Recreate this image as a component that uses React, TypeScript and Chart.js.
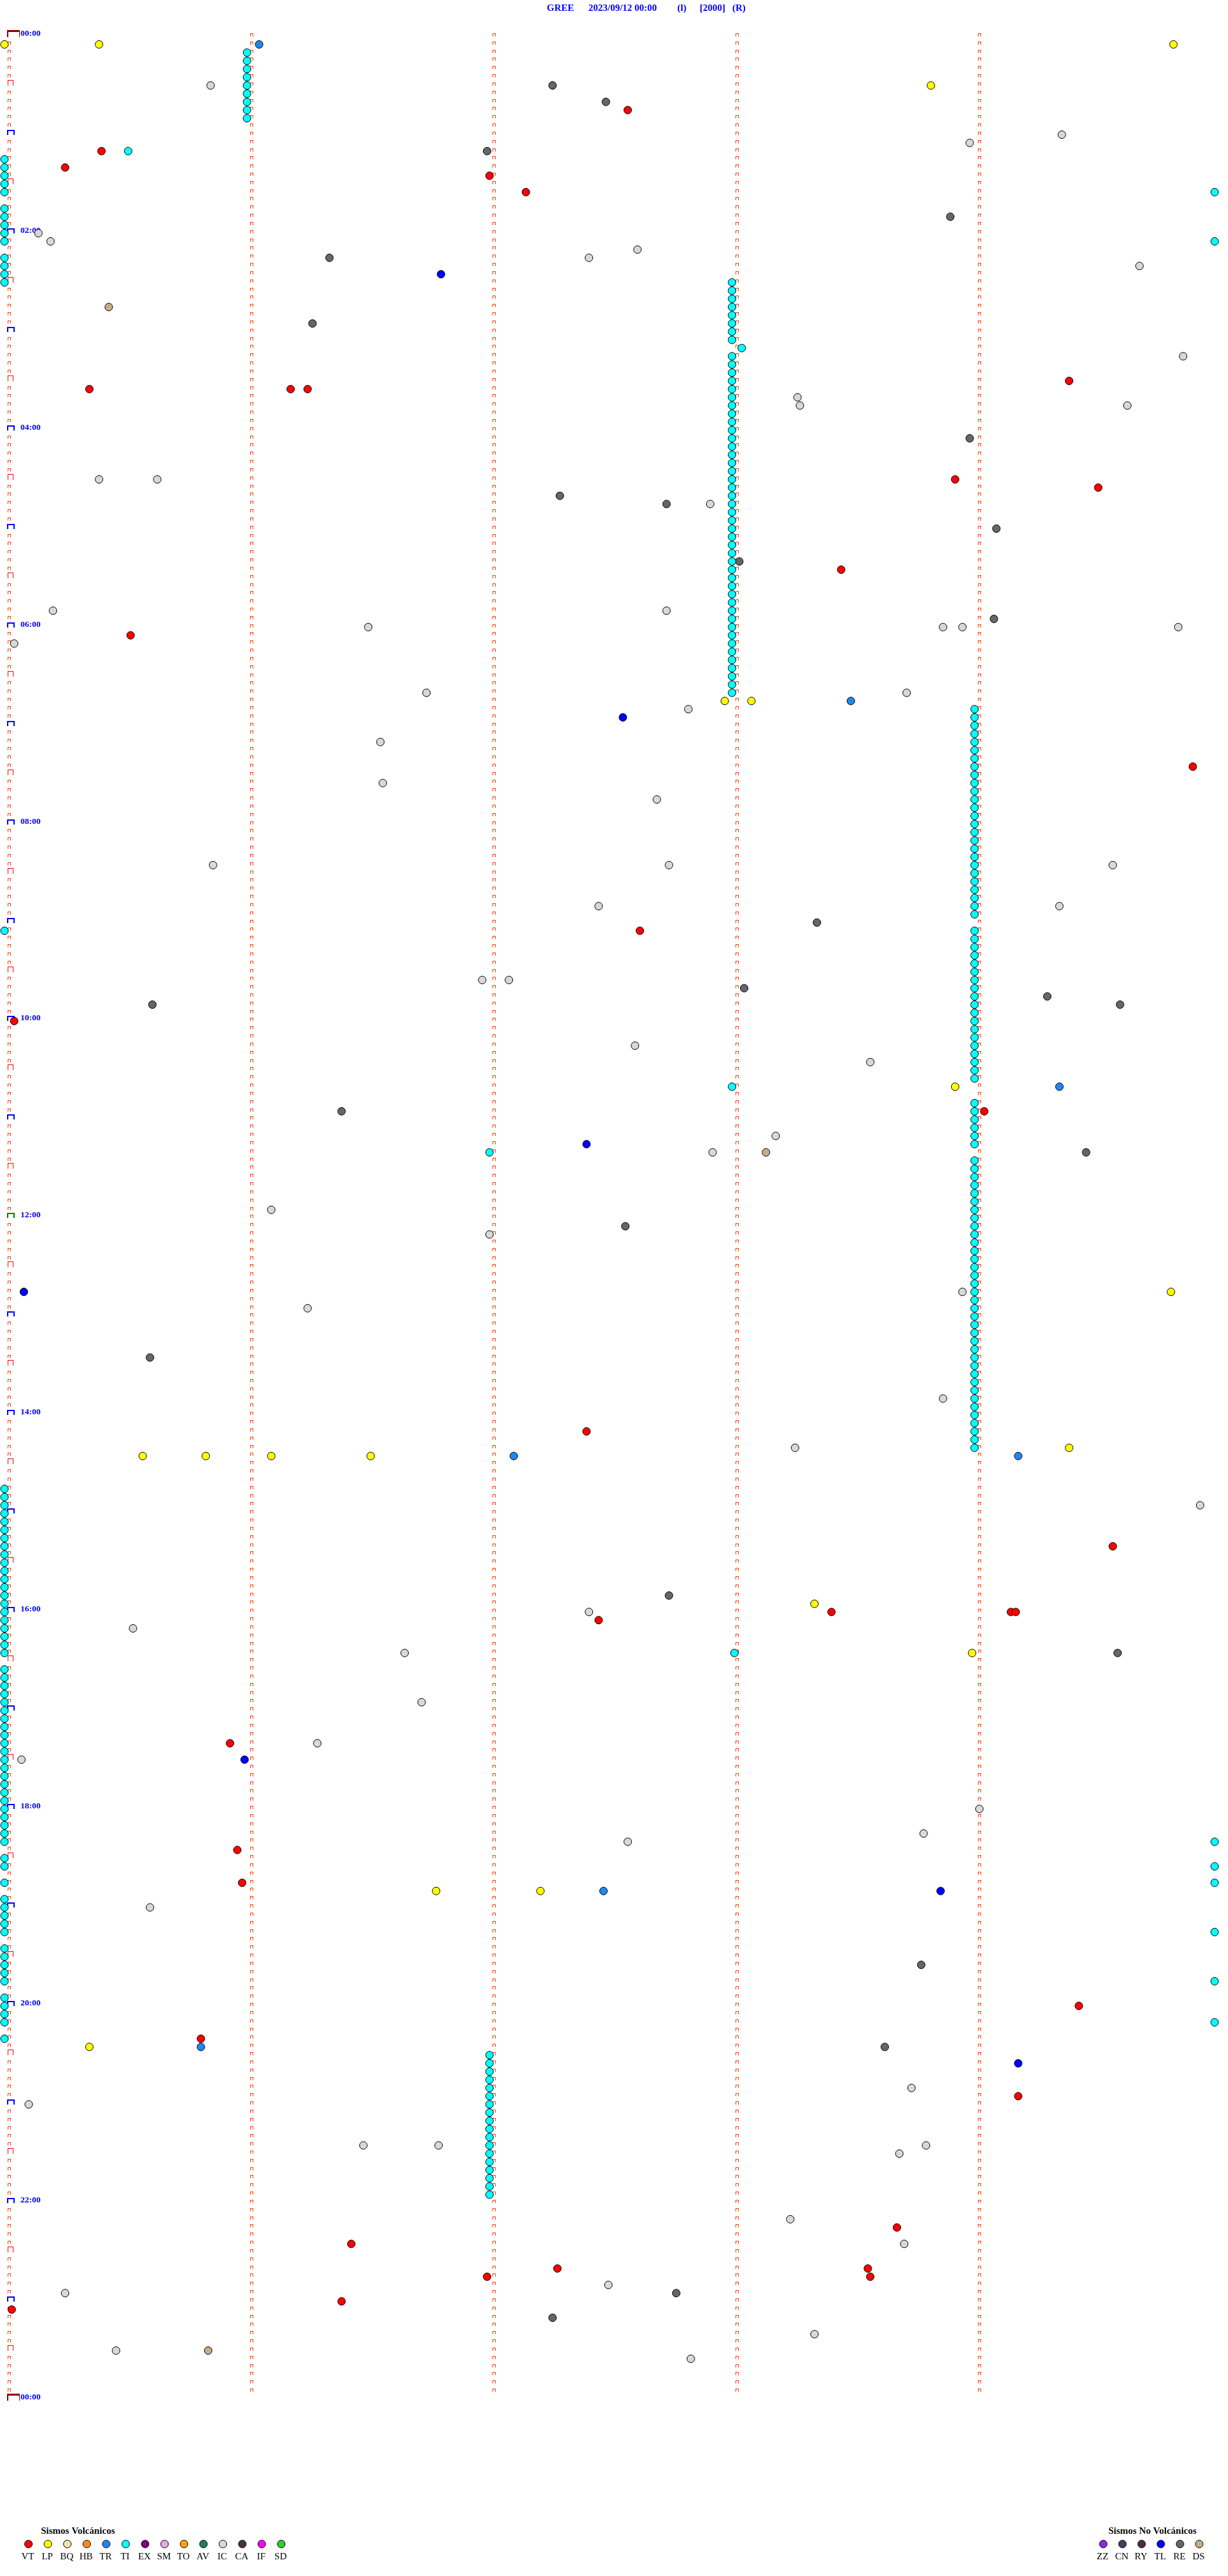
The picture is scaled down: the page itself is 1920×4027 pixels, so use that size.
import React, { useEffect, useRef } from 'react';
import { Chart, registerables } from 'chart.js';

Chart.register(...registerables);

// ---- Data: event times in minutes after 00:00 (station GREE, 2023/09/12) ----
// Each row of the helicorder spans 5 minutes; x = position inside the row.
const VT = [47.57, 70.4, 80.25, 87.0, 97.15, 214.39, 215.35, 216.18, 216.25, 273.92, 279.51, 328.45,
  365.52, 449.9, 547.62, 600.04, 659.04, 852.4, 924.57, 963.41, 964.15, 964.17, 967.45, 1040.93,
  1105.96, 1125.98, 1204.43, 1220.81, 1259.18, 1338.68, 1346.43, 1362.28, 1363.56, 1366.99, 1368.57,
  1381.39, 1385.03];

const LP = [5.0, 5.39, 9.82, 33.82, 407.97, 408.08, 643.92, 769.81, 864.39, 865.57, 865.83, 866.1,
  866.51, 958.34, 988.99, 1131.78, 1132.21, 1225.35];

const TR = [6.05, 408.49, 644.35, 867.1, 869.18, 1132.47, 1225.81];

const TI = [11, 16, 21, 26, 31, 36, 41, 46, 51, 70.51,
  75, 80, 85, 90, 95, 99.99, 105, 110, 115, 120, 125, 129.99, 135, 140, 145, 150,
  153, 158, 163, 168, 173, 178, 183, 188, 193.04, 198, 203, 208, 213, 218, 223, 228, 233, 238, 243,
  248, 253, 258, 263, 268, 273, 278, 283, 288, 293, 298, 303, 308, 313, 318, 323, 328, 333, 338, 343,
  348, 353, 358, 363, 368, 373, 378, 383, 388, 393, 398, 403,
  414, 419, 424, 429, 434, 439, 444, 449, 454, 459, 464, 469, 474, 479, 484, 489, 494, 499, 504, 509,
  514, 519, 524, 529, 534, 539, 545,
  549, 554, 559, 564, 569, 574, 579, 584, 589, 594, 599, 604, 609, 614, 619, 624, 629, 634, 639, 643,
  654, 659, 664, 669, 674, 679, 682,
  689, 694, 699, 704, 709, 714, 719, 724, 729, 734, 739, 744, 749, 754, 759, 764, 769, 774, 779, 784,
  789, 794, 799, 804, 809, 814, 819, 824, 829, 834, 839, 844, 849, 854, 859, 864,
  885, 890, 895, 900, 905, 910, 915, 920, 925, 930, 935, 940, 945, 950, 955, 960, 965, 970, 975, 980, 985,
  988.01,
  995, 1000, 1005, 1010, 1015, 1020, 1025, 1030, 1035, 1040, 1045, 1050, 1055, 1060, 1065, 1070, 1075,
  1080, 1085, 1090, 1095, 1100, 1104.99, 1110, 1115, 1119.99, 1125, 1129.99, 1135, 1140, 1145, 1150,
  1155, 1159.99, 1165, 1170, 1175, 1180, 1185, 1189.99, 1195, 1200, 1205, 1210, 1214.99, 1220,
  1232, 1237, 1242, 1247, 1252, 1257, 1262, 1267, 1272, 1277, 1282, 1287, 1292, 1297, 1302, 1307, 1312, 1317];

const IC = [30.85, 64.36, 68.98, 120.14, 125.19, 132.61, 137.41, 144.68, 199.86, 223.27, 228.28, 229.63,
  270.39, 270.63, 287.91, 350.2, 352.73, 361.5, 363.87, 363.95, 364.84, 370.04, 401.74, 403.72, 412.82,
  431.55, 456.56, 467.69, 505.86, 507.74, 509.57, 532.45, 534.35, 576.97, 577.08, 617.6, 628.57, 673.18,
  682.92, 716.1, 732.0, 768.95, 776.25, 833.87, 863.26, 899.93, 962.41, 970.53, 986.65, 1016.72,
  1041.29, 1050.07, 1084.02, 1098.79, 1102.57, 1140.6, 1253.74, 1260.1, 1286.48, 1286.79, 1288.8,
  1293.69, 1333.24, 1348.71, 1372.49, 1375.25, 1403.34, 1410.46, 1417.83];

const RE = [32.26, 42.48, 71.99, 113.9, 136.34, 176.27, 248.98, 282.29, 287.73, 304.09, 323.03, 359.08,
  543.35, 583.05, 589.3, 590.61, 594.6, 656.39, 684.46, 727.56, 805.6, 952.74, 989.59, 1178.78,
  1228.63, 1377.77, 1392.26];

const TL = [146.8, 417.55, 677.4, 765.08, 1050.99, 1133.86, 1239.18];

const DS = [165.43, 683.14, 1410.84];

// ---- Legend / labels ----
const VOLC_CODES = ['VT', 'LP', 'BQ', 'HB', 'TR', 'TI', 'EX', 'SM', 'TO', 'AV', 'IC', 'CA', 'IF', 'SD'];
const VOLC_COLORS = ['#FF0000', '#FFFF00', '#F0E4A8', '#FF8C1A', '#1E88F0', '#00FFFF', '#800080',
  '#E6A8E6', '#FFA500', '#1F7F5F', '#D8D8D8', '#4A3048', '#FF00FF', '#33CC33'];
const NOVOLC_CODES = ['ZZ', 'CN', 'RY', 'TL', 'RE', 'DS'];
const NOVOLC_COLORS = ['#8A2BE2', '#4A3C5C', '#4E2A48', '#0000FF', '#666666', '#C8AC88'];
const HOUR_LABELS = ['00:00', '02:00', '04:00', '06:00', '08:00', '10:00', '12:00', '14:00', '16:00',
  '18:00', '20:00', '22:00', '00:00'];
const TITLE_PARTS = ['GREE', '2023/09/12 00:00', '(l)', '[2000]', '(R)'];
const TITLE_X = [855, 920, 1059, 1094, 1145];

const ROW_MIN = 5;
const DAY_MIN = 1440;
const COLUMNS = 5;

const W = 1920;
const H = 4027;

const toPoint = (t: number) => {
  const row = Math.floor(t / ROW_MIN + 1e-9);
  return { x: t - row * ROW_MIN, y: row * ROW_MIN + 1.83 };
};

const SERIES: { label: string; data: number[]; color: string }[] = [
  { label: 'TI', data: TI, color: '#00FFFF' },
  { label: 'IC', data: IC, color: '#D8D8D8' },
  { label: 'RE', data: RE, color: '#666666' },
  { label: 'DS', data: DS, color: '#C8AC88' },
  { label: 'LP', data: LP, color: '#FFFF00' },
  { label: 'TR', data: TR, color: '#1E88F0' },
  { label: 'TL', data: TL, color: '#0000FF' },
  { label: 'VT', data: VT, color: '#FF0000' },
];

const SERIF = '"Liberation Serif", "Times New Roman", serif';
const TICK_COLOR = '#FF3C00';

function bracket(ctx: CanvasRenderingContext2D, x: number, y: number, w: number, h: number,
  t: number, color: string) {
  ctx.fillStyle = color;
  ctx.fillRect(x, y, w, t);
  ctx.fillRect(x, y, t, h);
  ctx.fillRect(x + w - t, y, t, h);
}

const decor = {
  id: 'decor',
  beforeDatasetsDraw(chart: any) {
    const { ctx } = chart;
    const xs = chart.scales.x;
    const ys = chart.scales.y;
    ctx.save();
    const rows = DAY_MIN / ROW_MIN;
    for (let c = 0; c < COLUMNS; c++) {
      const gx = Math.round(xs.getPixelForValue(c)) + 5;
      for (let r = 0; r <= rows; r++) {
        const gy = Math.round(ys.getPixelForValue(r * ROW_MIN));
        if (c === 0) {
          if (r === 0 || r === rows) {
            ctx.fillStyle = '#8B0000';
            ctx.fillRect(gx - 1, gy - 5, 20, 3);
            ctx.fillRect(gx - 1, gy - 5, 2, 11);
            ctx.fillRect(gx + 18, gy - 5, 1, 11);
          } else if (r === rows / 2) {
            bracket(ctx, gx - 1, gy - 3, 12, 8, 2, '#008000');
          } else if (r % 12 === 0) {
            bracket(ctx, gx - 1, gy - 3, 12, 8, 2, '#0000FF');
          } else if (r % 6 === 0) {
            bracket(ctx, gx, gy - 4, 9, 9, 1, '#FF0000');
          } else {
            bracket(ctx, gx, gy, 5, 5, 1, TICK_COLOR);
          }
        } else if (r < rows) {
          bracket(ctx, gx, gy, 5, 5, 1, TICK_COLOR);
        }
      }
    }
    ctx.fillStyle = '#0000FF';
    ctx.font = 'bold 13.5px ' + SERIF;
    ctx.textBaseline = 'middle';
    ctx.textAlign = 'left';
    HOUR_LABELS.forEach((lab, i) => {
      const gy = ys.getPixelForValue(i * 120);
      ctx.fillText(lab, 32, gy + 0.5);
    });
    ctx.restore();
  },
  afterDraw(chart: any) {
    const { ctx } = chart;
    ctx.save();
    // title
    ctx.fillStyle = '#0000FF';
    ctx.font = 'bold 15px ' + SERIF;
    ctx.textBaseline = 'middle';
    ctx.textAlign = 'left';
    TITLE_PARTS.forEach((p, i) => ctx.fillText(p, TITLE_X[i], 13));

    const drawLegend = (title: string, titleX: number, codes: string[], colors: string[],
      x0: number, step: number) => {
      ctx.fillStyle = '#000000';
      ctx.font = 'bold 15px ' + SERIF;
      ctx.textAlign = 'left';
      ctx.fillText(title, titleX, 3957);
      ctx.font = '15px ' + SERIF;
      ctx.textAlign = 'center';
      codes.forEach((code, i) => {
        const cx = x0 + i * step;
        ctx.beginPath();
        ctx.arc(cx, 3977, 6, 0, Math.PI * 2);
        ctx.fillStyle = colors[i];
        ctx.fill();
        ctx.lineWidth = 1;
        ctx.strokeStyle = '#000000';
        ctx.stroke();
        ctx.fillStyle = '#000000';
        ctx.fillText(code, cx - 1, 3997);
      });
    };
    drawLegend('Sismos Volcánicos', 64, VOLC_CODES, VOLC_COLORS, 44.5, 30.4);
    drawLegend('Sismos No Volcánicos', 1733, NOVOLC_CODES, NOVOLC_COLORS, 1725, 30);
    ctx.restore();
  },
};

export default function App() {
  const ref = useRef<HTMLCanvasElement | null>(null);
  useEffect(() => {
    document.body.style.margin = '0';
    const canvas = ref.current;
    if (!canvas) return;
    const chart = new Chart(canvas, {
      type: 'scatter',
      data: {
        datasets: SERIES.map((s) => ({
          label: s.label,
          data: s.data.map(toPoint),
          backgroundColor: s.color,
          borderColor: '#000000',
          pointRadius: 6,
          pointHoverRadius: 6,
          pointBorderWidth: 1,
          clip: false as any,
        })),
      },
      options: {
        animation: false,
        responsive: false,
        maintainAspectRatio: false,
        devicePixelRatio: 1,
        events: [],
        layout: { padding: { left: 4.9, right: 17.1, top: 51.9, bottom: 280.1 } },
        scales: {
          x: { type: 'linear', min: 0, max: COLUMNS, display: false },
          y: { type: 'linear', min: 0, max: DAY_MIN, reverse: true, display: false },
        },
        plugins: {
          legend: { display: false },
          title: { display: false },
          tooltip: { enabled: false },
        },
      },
      plugins: [decor],
    });
    return () => chart.destroy();
  }, []);
  return (
    <div style={{ position: 'absolute', left: 0, top: 0, width: W, height: H, background: '#FFFFFF' }}>
      <canvas ref={ref} width={W} height={H} style={{ display: 'block', width: W, height: H }} />
    </div>
  );
}
